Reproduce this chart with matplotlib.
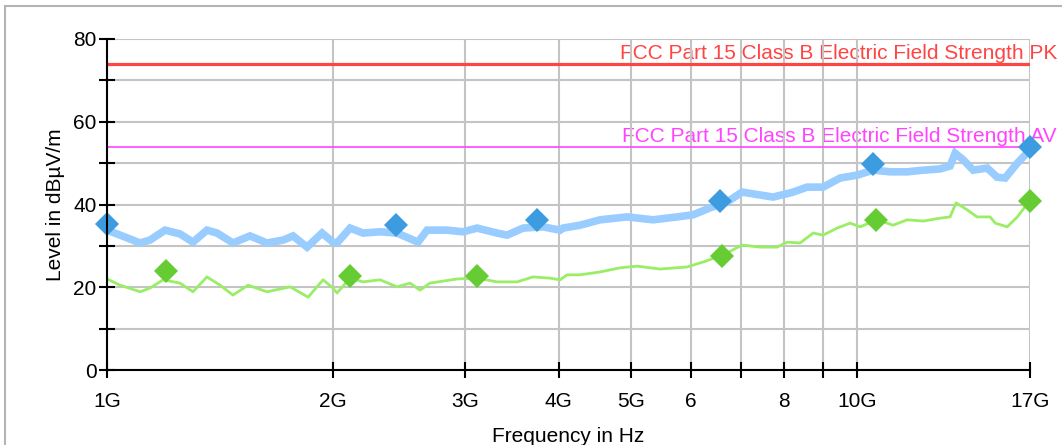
import numpy as np
import matplotlib
matplotlib.use('Agg')
import matplotlib.pyplot as plt
from matplotlib.patches import Rectangle
from matplotlib.ticker import FixedLocator, NullLocator, MultipleLocator

plt.rcParams['font.family'] = ['Liberation Sans', 'DejaVu Sans']

# peak trace (GHz, dBuV/m)
pk_freq = [1.000, 1.041, 1.107, 1.141, 1.195, 1.251, 1.302, 1.359, 1.402, 1.472,
           1.551, 1.634, 1.717, 1.770, 1.848, 1.935, 2.001, 2.026, 2.109, 2.194,
           2.312, 2.436, 2.598, 2.671, 2.840, 2.983, 3.114, 3.311, 3.415, 3.587,
           3.813, 4.018, 4.055, 4.272, 4.544, 4.936, 5.346, 5.754, 6.044, 6.368,
           6.709, 7.025, 7.424, 7.727, 8.140, 8.215, 8.577, 9.008, 9.491, 10.0,
           10.50, 11.07, 11.66, 12.25, 12.90, 13.30, 13.51, 13.85, 14.28, 14.91,
           15.37, 15.75, 16.35, 16.90, 17.0]
pk_level = [33.8, 32.6, 30.7, 31.4, 33.8, 32.9, 30.9, 33.8, 33.1, 30.7,
            32.4, 30.7, 31.4, 32.4, 29.7, 33.1, 30.9, 30.7, 34.3, 33.1,
            33.4, 33.1, 30.9, 33.8, 33.8, 33.4, 34.3, 33.1, 32.6, 34.3,
            34.6, 33.8, 34.3, 35.0, 36.3, 37.0, 36.3, 37.0, 37.5, 39.2,
            40.6, 43.0, 42.3, 41.8, 42.8, 43.0, 44.2, 44.2, 46.4, 47.1,
            48.3, 47.9, 47.9, 48.3, 48.6, 49.3, 52.4, 50.8, 48.3, 48.8,
            46.6, 46.4, 50.0, 52.7, 53.5]

# average trace
av_freq = [1.000, 1.041, 1.107, 1.141, 1.188, 1.251, 1.302, 1.359, 1.415, 1.472,
           1.542, 1.634, 1.754, 1.854, 1.941, 2.001, 2.026, 2.109, 2.194, 2.312,
           2.436, 2.535, 2.614, 2.695, 2.929, 3.114, 3.311, 3.522, 3.698, 3.896,
           4.018, 4.105, 4.272, 4.544, 4.831, 5.089, 5.462, 5.933, 6.232, 6.627,
           7.025, 7.424, 7.822, 8.065, 8.395, 8.737, 9.008, 9.404, 9.788, 10.09,
           10.63, 11.17, 11.66, 12.25, 12.90, 13.30, 13.55, 14.02, 14.45, 15.04,
           15.28, 15.85, 16.35, 16.90, 17.0]
av_level = [22.0, 20.5, 18.9, 19.8, 21.8, 21.0, 18.9, 22.5, 20.5, 18.1,
            20.5, 18.9, 20.1, 17.6, 21.8, 19.8, 18.6, 22.2, 21.3, 21.8,
            20.1, 21.0, 19.3, 21.0, 22.0, 22.2, 21.3, 21.3, 22.5, 22.2,
            21.8, 23.0, 23.0, 23.7, 24.7, 25.1, 24.4, 24.9, 26.1, 27.8,
            30.2, 29.7, 29.7, 30.9, 30.7, 33.1, 32.6, 34.3, 35.5, 34.6,
            36.3, 35.0, 36.3, 36.0, 36.7, 37.0, 40.4, 38.7, 37.0, 37.0,
            35.5, 34.6, 37.0, 40.4, 40.8]

# final measurement points
pk_mark_freq = [1.0, 2.43, 3.74, 6.57, 10.5, 17.0]
pk_mark_level = [35.3, 35.0, 36.3, 40.8, 49.8, 53.9]
av_mark_freq = [1.20, 2.11, 3.11, 6.61, 10.6, 17.0]
av_mark_level = [23.9, 22.7, 22.7, 27.6, 36.3, 40.8]

limit_pk = 74
limit_av = 54
limit_pk_label = "FCC Part 15 Class B Electric Field Strength PK"
limit_av_label = "FCC Part 15 Class B Electric Field Strength AV"

xticks_ghz = [1, 2, 3, 4, 5, 6, 7, 8, 9, 10, 17]
xtick_labels = ['1G', '2G', '3G', '4G', '5G', '6', '', '8', '', '10G', '17G']

size = 15
fig = plt.figure(figsize=(10.62, 4.45), dpi=100)
ax = fig.add_axes([107/1062, 1-370/445, (1030-107)/1062, (370-39)/445])

G = 1e9
ax.plot(np.array(pk_freq)*G, pk_level, color='#99ccff', lw=5.5, solid_joinstyle='miter', zorder=2)
ax.plot(np.array(av_freq)*G, av_level, color='#99ee66', lw=2, zorder=2.1)
ax.axhline(limit_pk, color='#ff4444', lw=2.3, zorder=2.2)
ax.axhline(limit_av, color='#ff44ff', lw=1.2, zorder=2.2)
ax.plot(np.array(pk_mark_freq)*G, pk_mark_level, 'D', color='#3d9be0', ms=12, mew=0, zorder=3, clip_on=False)
ax.plot(np.array(av_mark_freq)*G, av_mark_level, 'D', color='#66cc33', ms=12, mew=0, zorder=3, clip_on=False)

ax.annotate(limit_pk_label, xy=(17*G, limit_pk), xytext=(27, 1), textcoords='offset pixels',
            ha='right', va='bottom', color='#ff4444', fontsize=size, zorder=1)
ax.annotate(limit_av_label, xy=(17*G, limit_av), xytext=(27, 1), textcoords='offset pixels',
            ha='right', va='bottom', color='#ff44ff', fontsize=size, zorder=1)

ax.set_xscale('log')
ax.set_xlim(1*G, 17*G)
ax.set_ylim(0, 80)
ax.xaxis.set_major_locator(FixedLocator([v*G for v in xticks_ghz]))
ax.xaxis.set_minor_locator(NullLocator())
ax.set_xticklabels(xtick_labels)
ax.yaxis.set_major_locator(MultipleLocator(20))
ax.yaxis.set_minor_locator(MultipleLocator(10))

ax.grid(True, which='both', color='#c4c4c4', lw=1.5, zorder=1.5)
ax.set_axisbelow('line')
for s in ['top', 'right']:
    ax.spines[s].set_visible(False)
for s in ['left', 'bottom']:
    ax.spines[s].set_linewidth(1.5)
    ax.spines[s].set_zorder(4)
ax.tick_params(which='both', direction='inout', length=11, width=1.5, labelsize=size)
ax.tick_params(axis='x', pad=10)
ax.tick_params(axis='y', pad=2)

ax.set_xlabel('Frequency in Hz', fontsize=size, labelpad=12)
ax.set_ylabel('Level in dBµV/m', fontsize=size, labelpad=6)

fig.patches.append(Rectangle((5/1062, -0.1), 1.2, 1 - 6/445 + 0.1, transform=fig.transFigure,
                             fill=False, ec='#b4b4b4', lw=1.5))

fig.savefig('out.png', dpi=100)
